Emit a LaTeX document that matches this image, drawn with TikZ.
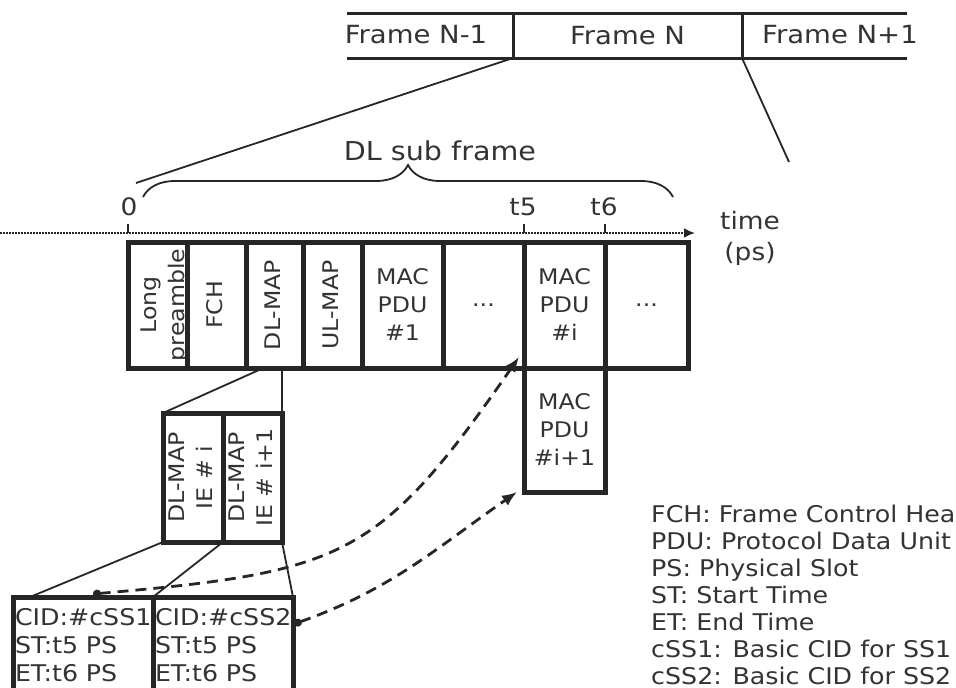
\documentclass[tikz,border=0pt]{standalone}
\usepackage{fontspec}
\usepackage{graphicx}
\setmainfont{DejaVu Sans}[FakeStretch=1.1]
\usetikzlibrary{positioning,arrows.meta,decorations.pathreplacing}

\tikzset{
  ink/.style={draw=black!85, text=black!80},
  cell/.style={ink, line width=5pt, inner sep=0pt, outer sep=0pt,
    minimum height=126pt, align=center, font=\fontsize{21.5}{28}\selectfont},
  cid/.style={ink, line width=5pt, inner xsep=2pt, inner ysep=0pt, outer sep=0pt,
    minimum height=96pt, text width=136pt, align=left,
    font=\fontsize{23}{28}\selectfont},
  framelbl/.style={inner sep=0pt, outer sep=0pt, text=black!80,
    font=\fontsize{25}{30}\selectfont},
  lbl/.style={inner sep=0pt, text=black!80, font=\fontsize{24}{31}\selectfont},
  barline/.style={draw=black!85, line width=3pt},
  thinline/.style={draw=black!85, line width=1.8pt},
  axisline/.style={draw=black!85, line width=2pt, dash pattern=on 1.6pt off 1.4pt,
    -{Latex[length=11pt,width=10pt]}},
  tick/.style={draw=black!85, line width=2.2pt},
  link/.style={draw=black!85, line width=2.8pt, dash pattern=on 11pt off 7pt,
    {Circle[length=8pt]}-{Latex[length=15pt,width=12pt]}},
}
% rotated label, kept out of the cell width
\newcommand{\vlbl}[1]{\makebox[0pt]{\rotatebox{90}{\begin{tabular}{@{}c@{}}#1\end{tabular}}}}

\begin{document}
\begin{tikzpicture}[x=1pt, y=-1pt]
  % y runs downwards here
  \useasboundingbox (0,0) rectangle (956,688);

  % frames on top
  \node[framelbl, minimum width=229pt, minimum height=45pt] (frmN) at (627.5,35.5) {Frame N};
  \node[framelbl] (frmL) at (416,35) {Frame N-1};
  \node[framelbl] (frmR) at (840,35) {Frame N+1};
  \draw[barline] (347,13) -- (907,13) (347,58) -- (907,58);
  \draw[barline] (frmN.north west) -- (frmN.south west)
    (frmN.north east) -- (frmN.south east);

  % zoom into frame N
  \coordinate (zoomL) at (136,183);
  \coordinate (zoomR) at (789,162);
  \draw[thinline] (frmN.south west) -- (zoomL);
  \draw[thinline] (frmN.south east) -- (zoomR);

  % DL sub frame brace
  \draw[thinline, decorate, decoration={brace, amplitude=32pt}] (143,197) -- (673,197);
  \node[lbl, font=\fontsize{26}{31}\selectfont] (dlsub) at (440,151) {DL sub frame};

  % time axis
  \draw[axisline] (0,233) -- (695,233);
  \node[lbl, align=center] (timelbl) at (750,238) {time\\(ps)};

  % DL sub frame cells
  \node[cell, anchor=north west, minimum width=59pt] (pre) at (128,242) {\hspace{14pt}\vlbl{Long\\preamble}};
  \node[cell, minimum width=59pt, right=0pt of pre] (fch) {\vlbl{FCH}};
  \node[cell, minimum width=57pt, right=0pt of fch] (dlmap) {\vlbl{DL-MAP}};
  \node[cell, minimum width=59pt, right=0pt of dlmap] (ulmap) {\vlbl{UL-MAP}};
  \node[cell, minimum width=81pt, right=0pt of ulmap] (pduA) {MAC\\PDU\\\#1};
  \node[cell, minimum width=81pt, right=0pt of pduA] (gapA) {...};
  \node[cell, minimum width=81pt, right=0pt of gapA] (pduI) {MAC\\PDU\\\#i};
  \node[cell, minimum width=83pt, right=0pt of pduI] (gapB) {...};
  \node[cell, minimum width=81pt, minimum height=124pt, below=0pt of pduI] (pduJ) {MAC\\PDU\\\#i+1};

  % ticks and their labels
  \draw[tick] (pre.north west |- 0,224) -- (pre.north west |- 0,233);
  \draw[tick] (pduI.north west |- 0,224) -- (pduI.north west |- 0,233);
  \draw[tick] (pduI.north east |- 0,224) -- (pduI.north east |- 0,233);
  \node[lbl] (lbl0) at (129,207) {0};
  \node[lbl] (lbl5) at (523,207) {t5};
  \node[lbl] (lbl6) at (604,207) {t6};

  % DL-MAP information elements
  \node[cell, anchor=north west, minimum width=60pt, minimum height=129pt] (ieA) at (163,413) {\vlbl{DL-MAP\\IE \# i}};
  \node[cell, minimum width=59pt, minimum height=129pt, right=0pt of ieA] (ieB) {\vlbl{DL-MAP\\IE \# i+1}};
  \draw[thinline] ([xshift=-11pt]dlmap.south) -- (ieA.north west);
  \draw[thinline] (ieB.north east |- dlmap.south) -- (ieB.north east);

  % IE contents
  \node[cid, anchor=north west] (cidA) at (13,597) {CID:\#cSS1\\ST:t5 PS\\ET:t6 PS};
  \node[cid, right=0pt of cidA] (cidB) {CID:\#cSS2\\ST:t5 PS\\ET:t6 PS};
  \draw[thinline] (ieA.south west) -- ([xshift=17pt]cidA.north west);
  \draw[thinline] (ieA.south east) -- (cidB.north west);
  \draw[thinline] (ieB.south east) -- (cidB.north east);

  % start times point into the sub frame
  \coordinate (dotA) at (93,594);
  \coordinate (dotB) at (294,624);
  \draw[link] (dotA) .. controls (343,572) and (379,559) .. ([xshift=-5pt,yshift=11pt]pduI.south west);
  \draw[link] (dotB) .. controls (392,589) and (435,549) .. ([xshift=-7pt]pduJ.south west);

  % abbreviations
  \node[lbl, anchor=north west, align=left, font=\fontsize{23}{27}\selectfont] (legend) at (651,505)
    {FCH: Frame Control Header\\PDU: Protocol Data Unit\\PS: Physical Slot\\ST: Start Time\\ET: End Time\\cSS1: Basic CID for SS1\\cSS2: Basic CID for SS2};
\end{tikzpicture}
\end{document}
